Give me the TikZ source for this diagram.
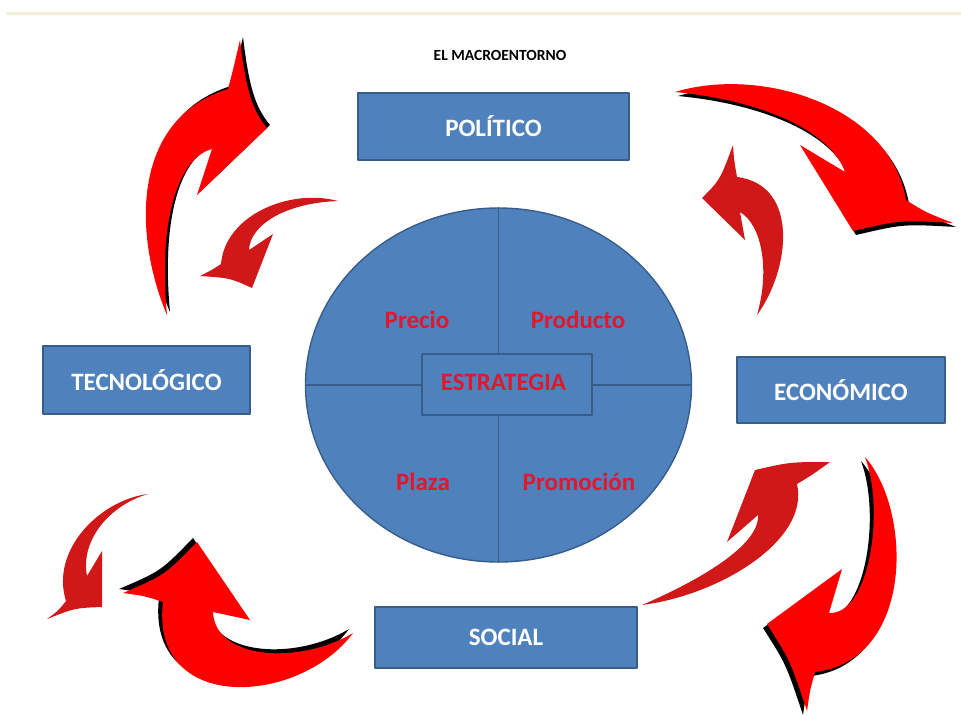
\documentclass[tikz,border=0pt]{standalone}
\usepackage{fontspec}
\setmainfont{Carlito}
\usetikzlibrary{shapes.geometric}
\definecolor{MEblue}{HTML}{4F81BD}
\definecolor{MEedge}{HTML}{385D8A}
\definecolor{MEred}{HTML}{FF0000}
\definecolor{MEdark}{HTML}{D01818}
\definecolor{MElabel}{HTML}{E0182D}
\definecolor{MErule}{HTML}{F2EEDC}
% big swoosh: black drop shadow first, red body on top
\newcommand{\bigswoosh}[2]{%
  \fill[black,shift={#1}] #2;
  \fill[MEred] #2;}
% small swoosh: flat, no shadow
\newcommand{\smallswoosh}[1]{\fill[MEdark] #1;}

\begin{document}
\begin{tikzpicture}[
  x=1pt,y=-1pt,
  line join=round,
  factor/.style={draw=MEedge,line width=1.4pt,fill=MEblue,text=white,
    font=\bfseries\fontsize{25}{29}\selectfont,inner sep=0pt},
  quarter/.style={text=MElabel,font=\bfseries\fontsize{25}{29}\selectfont},
  divider/.style={draw=MEedge,line width=1.4pt}
]
\useasboundingbox (0,0) rectangle (961,715);
\fill[white] (0,0) rectangle (961,715);

% thin rule along the top
\draw[MErule,line width=3pt] (6,13) -- (961,13);

\node[font=\bfseries\fontsize{15.5}{18}\selectfont] (title) at (500,55) {EL MACROENTORNO};

% the four environment boxes
\node[factor,minimum width=271pt,minimum height=67pt] (politico) at (493.5,126.5) {POLÍTICO};
\node[factor,minimum width=207pt,minimum height=68pt] (tecno) at (146.5,380) {TECNOLÓGICO};
\node[factor,minimum width=208pt,minimum height=66pt] (econo) at (841,390) {ECONÓMICO};
\node[factor,minimum width=262pt,minimum height=61pt] (social) at (506,637.5) {SOCIAL};

% marketing mix, split in four
\node[ellipse,draw=MEedge,line width=1.4pt,fill=MEblue,
  minimum width=386pt,minimum height=354pt,inner sep=0pt] (mix) at (498.5,385) {};
\draw[divider] (mix.north) -- (mix.south);
\draw[divider] (mix.west) -- (mix.east);
\node[factor,minimum width=170pt,minimum height=61pt] (estrategia) at (507,384.5) {};
\node[quarter] (estrategiatxt) at (503.5,382) {ESTRATEGIA};
\node[quarter] (precio) at (417,320) {Precio};
\node[quarter] (producto) at (578,320) {Producto};
\node[quarter] (plaza) at (423,482) {Plaza};
\node[quarter] (promocion) at (579,482) {Promoción};

% swooshes, clockwise from top left
\bigswoosh{(3,-3)}{(167,315) .. controls (135,240) and (128,120) .. (228,89)
  .. controls (233,70) .. (240,40) .. controls (246,90) and (252,110) .. (267,128)
  -- (197,195) -- (212,149) .. controls (178,158) and (158,220) .. cycle}
\smallswoosh{(338,201) .. controls (290,188) and (225,215) .. (221,264)
  .. controls (212,270) .. (200,276) .. controls (230,278) .. (252,288)
  -- (273,234) -- (249,250) .. controls (250,225) and (285,203) .. cycle}
\bigswoosh{(3,4)}{(675,92) .. controls (760,66) and (890,105) .. (906,200)
  .. controls (925,212) .. (953,223) .. controls (900,220) .. (853,231)
  -- (800,145) -- (845,172) .. controls (830,130) and (760,100) .. cycle}
\smallswoosh{(757,315) .. controls (790,270) and (800,185) .. (737,177)
  .. controls (734,160) .. (733,145) .. controls (720,180) .. (702,198)
  -- (745,240) -- (740,212) .. controls (762,225) and (770,270) .. cycle}
\bigswoosh{(-4,4)}{(865,457) .. controls (912,510) and (915,660) .. (815,672)
  .. controls (810,690) .. (807,711) .. controls (790,660) .. (767,624)
  -- (842,569) -- (829,613) .. controls (870,615) and (885,510) .. cycle}
\smallswoosh{(642,605) .. controls (720,595) and (810,540) .. (797,484)
  .. controls (812,475) .. (830,462) .. controls (790,462) .. (755,470)
  -- (727,542) -- (758,515) .. controls (760,545) and (700,580) .. cycle}
\bigswoosh{(-4,-4)}{(353,633) .. controls (300,705) and (150,715) .. (163,602)
  .. controls (145,596) .. (123,593) .. controls (165,575) .. (197,542)
  -- (250,620) -- (213,612) .. controls (215,660) and (300,665) .. cycle}
\smallswoosh{(148,494) .. controls (100,500) and (50,550) .. (66,601)
  .. controls (58,611) .. (47,619) .. controls (75,608) .. (102,607)
  -- (102,551) -- (87,576) .. controls (80,540) and (110,505) .. cycle}

\end{tikzpicture}
\end{document}
